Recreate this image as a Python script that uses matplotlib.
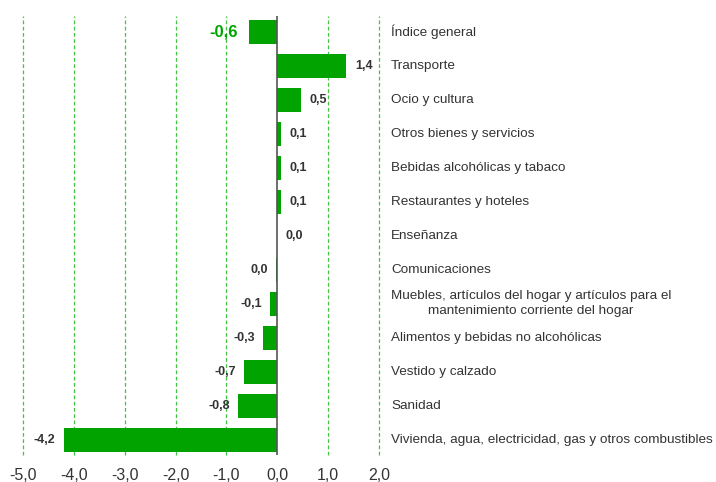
import matplotlib.pyplot as plt
import matplotlib.transforms as mtransforms
import numpy as np

plt.rcParams['font.family'] = ['Liberation Sans', 'DejaVu Sans']

categories = [
    "Índice general",
    "Transporte",
    "Ocio y cultura",
    "Otros bienes y servicios",
    "Bebidas alcohólicas y tabaco",
    "Restaurantes y hoteles",
    "Enseñanza",
    "Comunicaciones",
    "Muebles, artículos del hogar y artículos para el\nmantenimiento corriente del hogar",
    "Alimentos y bebidas no alcohólicas",
    "Vestido y calzado",
    "Sanidad",
    "Vivienda, agua, electricidad, gas y otros combustibles",
]
# bar lengths
values = [-0.55, 1.36, 0.47, 0.08, 0.07, 0.07, 0.0, -0.02, -0.14, -0.28, -0.65, -0.77, -4.2]
# printed labels
shown = ["-0,6", "1,4", "0,5", "0,1", "0,1", "0,1", "0,0", "0,0", "-0,1", "-0,3", "-0,7", "-0,8", "-4,2"]

green = '#00a300'
text_col = '#333333'

fig = plt.figure(figsize=(7.16, 4.82), dpi=100)
ax = fig.add_axes([23 / 716, 1 - 455 / 482, 356 / 716, 439 / 482])

y = np.arange(len(categories))
ax.barh(y, values, height=0.71, color=green, zorder=2)

ax.set_xlim(-5, 2)
ax.set_ylim(12.45, -0.47)

for xv in range(-5, 3):
    if xv == 0:
        continue
    ax.axvline(xv, color='#44c444', lw=0.9, ls=(0, (3, 2)), zorder=1, clip_on=False)
ax.axvline(0, color='#555555', lw=1.2, zorder=3)

for s in ax.spines.values():
    s.set_visible(False)
ax.set_yticks([])
ax.set_xticks(range(-5, 3))
ax.set_xticklabels([f"{t:.1f}".replace('.', ',') for t in range(-5, 3)])
ax.tick_params(axis='x', length=0, pad=9, labelsize=11.5, labelcolor=text_col)

# value labels
for i, (v, s) in enumerate(zip(values, shown)):
    if i == 0:
        ax.annotate(s, (v, i), xytext=(-8, 0), textcoords='offset points',
                    ha='right', va='center', fontsize=12, fontweight='bold', color=green)
    elif v < 0:
        ax.annotate(s, (v, i), xytext=(-6, 0), textcoords='offset points',
                    ha='right', va='center', fontsize=9, fontweight='bold', color=text_col)
    else:
        ax.annotate(s, (v, i), xytext=(6, 0), textcoords='offset points',
                    ha='left', va='center', fontsize=9, fontweight='bold', color=text_col)

# category names to the right of the plot
trans = mtransforms.blended_transform_factory(ax.transAxes, ax.transData)
for i, c in enumerate(categories):
    ax.text((391 - 23) / 356, i, c, transform=trans, ha='left', va='center',
            multialignment='center', fontsize=9.7, color=text_col, linespacing=1.35)

fig.savefig('out.png', dpi=100)
